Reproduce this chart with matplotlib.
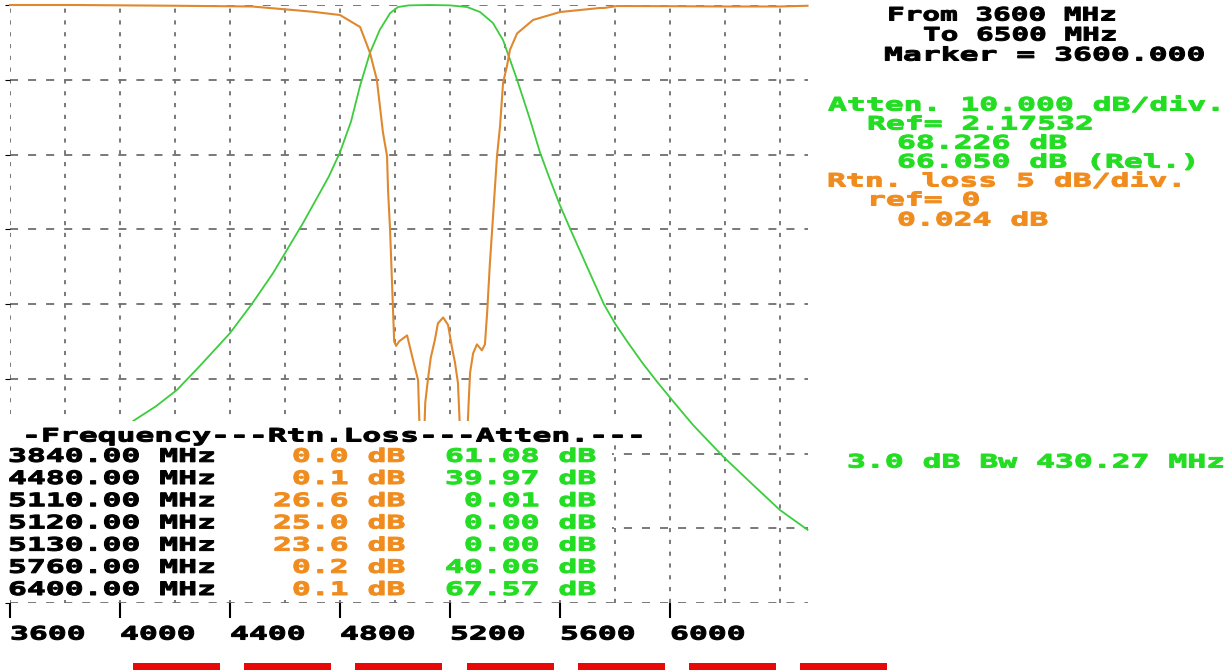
import numpy as np
import matplotlib
matplotlib.use("Agg")
import matplotlib.pyplot as plt
from matplotlib.patheffects import AbstractPathEffect
from matplotlib.transforms import Affine2D
from matplotlib.patches import Rectangle

plt.rcParams['lines.scale_dashes'] = False

# ---------------- data ----------------
f_start, f_stop = 3600, 6500

atten_freq = [3840, 4054, 4130, 4207, 4290, 4400, 4480, 4556, 4600, 4665, 4730, 4760,
              4800, 4840, 4873, 4909, 4945, 4982, 5011, 5050, 5110, 5120, 5130, 5200,
              5262, 5309, 5356, 5393, 5418, 5444, 5490, 5527, 5560, 5600, 5640, 5680,
              5720, 5760, 5800, 5844, 5900, 5953, 6011, 6084, 6193, 6302, 6400, 6500]
atten_db = [61.08, 55.5, 53.7, 51.5, 48.3, 43.9, 39.97, 35.9, 33.2, 29.2, 24.9, 22.9,
            19.7, 15.6, 10.8, 6.4, 3.3, 1.1, 0.27, 0.05, 0.01, 0.00, 0.00, 0.05,
            0.27, 0.93, 2.4, 4.7, 7.3, 10.0, 15.2, 19.7, 23.0, 26.8, 30.2, 33.5,
            36.8, 40.06, 42.6, 45.0, 47.9, 50.4, 53.0, 56.2, 60.4, 64.2, 67.57, 70.2]

rl_freq = [3600, 3840, 4200, 4480, 4607, 4700, 4800, 4873, 4909, 4934, 4956, 4971,
           4975, 4982, 4990, 4997, 5004, 5015, 5044, 5065, 5084, 5092, 5100, 5105,
           5110, 5120, 5130, 5145, 5156, 5175, 5193, 5207, 5218, 5229, 5240, 5250,
           5260, 5268, 5273, 5284, 5298, 5316, 5327, 5335, 5345, 5353, 5371, 5382,
           5393, 5407, 5418, 5444, 5502, 5600, 5745, 5760, 5807, 6000, 6200, 6400, 6500]
rl_db = [0.0, 0.0, 0.05, 0.1, 0.3, 0.45, 0.67, 1.47, 3.2, 5.0, 8.5, 10.1,
         12.5, 15.0, 19.0, 22.5, 22.8, 22.5, 22.1, 23.7, 25.1, 30.0, 33.0, 29.5,
         26.6, 25.0, 23.6, 22.4, 21.3, 20.9, 21.4, 22.9, 23.9, 25.3, 30.0, 34.0,
         30.0, 26.5, 24.6, 23.3, 22.7, 23.1, 22.7, 20.6, 17.3, 15.1, 10.1, 8.1,
         5.2, 4.1, 3.0, 1.9, 1.0, 0.47, 0.2, 0.2, 0.07, 0.08, 0.1, 0.1, 0.05]

table_freqs = [3840.00, 4480.00, 5110.00, 5120.00, 5130.00, 5760.00, 6400.00]
table_rl = [0.0, 0.1, 26.6, 25.0, 23.6, 0.2, 0.1]
table_att = [61.08, 39.97, 0.01, 0.00, 0.00, 40.06, 67.57]

tick_freqs = [3600, 4000, 4400, 4800, 5200, 5600, 6000]
tick_labels = ["3600", "4000", "4400", "4800", "5200", "5600", "6000"]

header_lines = ["From 3600 MHz", "To 6500 MHz", "Marker = 3600.000"]
atten_lines = ["Atten. 10.000 dB/div.", "Ref= 2.17532", "68.226 dB", "66.050 dB (Rel.)"]
rtn_lines = ["Rtn. loss 5 dB/div.", "ref= 0", "0.024 dB"]
bw_text = "3.0 dB Bw 430.27 MHz"
table_header = "-Frequency---Rtn.Loss---Atten.---"

# ---------------- styling ----------------
GREEN = '#22dd22'
GREEN_LINE = '#3ccc3c'
ORANGE = '#f08c1e'
ORANGE_LINE = '#e0882e'
GRID = '#6e6e6e'
RED = '#e80808'

W, H, DPI = 1227, 670, 100
FS = 13.3            # points -> ~18.5 px em
CAP = 13.5           # cap height in px
SX = 1.70            # horizontal stretch of the mono font
SX_NARROW = 1.59
STROKE = 0.75        # extra stroke (pt) to mimic the heavy bitmap font


class StretchX(AbstractPathEffect):
    """Stretch text glyphs horizontally about the text origin and embolden."""
    def __init__(self, sx, stroke=STROKE):
        super().__init__()
        self.sx = sx
        self.stroke = stroke

    def draw_path(self, renderer, gc, tpath, affine, rgbFace=None):
        tr = Affine2D().scale(self.sx, 1.0) + affine
        gc0 = renderer.new_gc()
        gc0.copy_properties(gc)
        gc0.set_linewidth(self.stroke)
        if rgbFace is not None:
            gc0.set_foreground(rgbFace)
        gc0.set_joinstyle('miter')
        renderer.draw_path(gc0, tpath, tr, rgbFace)
        gc0.restore()


FONT = dict(fontfamily='DejaVu Sans Mono', fontweight='bold', fontsize=FS)

fig = plt.figure(figsize=(W / DPI, H / DPI), dpi=DPI)
fig.patch.set_facecolor('white')

L, R, T, B = 10, 807.5, 5, 603
ax = fig.add_axes([L / W, 1 - B / H, (R - L) / W, (B - T) / H])
ax.set_xlim(f_start, f_stop)
ax.set_ylim(80, 0)
for s in ax.spines.values():
    s.set_visible(False)
ax.patch.set_alpha(0)

ax.xaxis.remove_overlapping_locs = False
ax.set_xticks(np.arange(3600, 6500, 200), minor=True)
ax.set_xticks(tick_freqs, labels=tick_labels)
ax.set_yticks(np.arange(0, 81, 10))
ax.tick_params(axis='y', left=False, labelleft=False)
ax.tick_params(axis='x', which='minor', length=0)
ax.tick_params(axis='x', which='major', direction='out', length=10.8, width=1.5,
               color='black', pad=15.5)
for lbl in ax.get_xticklabels():
    lbl.set_fontfamily('DejaVu Sans Mono')
    lbl.set_fontweight('bold')
    lbl.set_fontsize(FS)
    lbl.set_ha('left')
    lbl.set_va('baseline')
    lbl.set_path_effects([StretchX(SX)])

ax.grid(which='minor', axis='x', color=GRID, lw=1.3, linestyle=(0, (3.0, 5.5)))
ax.grid(which='major', axis='y', color=GRID, lw=1.3, linestyle=(0, (5.8, 7.2)))

ax.plot(atten_freq, atten_db, color=GREEN_LINE, lw=1.3, clip_on=False, zorder=3)

ax2 = ax.twinx()
ax2.set_ylim(40, 0)
ax2.axis('off')
ax2.plot(rl_freq, rl_db, color=ORANGE_LINE, lw=1.5, clip_on=False, zorder=3)

# ---------------- overlay for texts / boxes ----------------
ov = fig.add_axes([0, 0, 1, 1], zorder=10)
ov.set_xlim(0, W)
ov.set_ylim(H, 0)
ov.axis('off')


def put(x, top, s, color, sx=SX):
    ov.text(x, top + CAP, s, color=color, ha='left', va='baseline',
            path_effects=[StretchX(sx)], **FONT)


# table background
ov.add_patch(Rectangle((0, 421), 612, 179, facecolor='white', edgecolor='none', zorder=1))
ov.add_patch(Rectangle((0, 421), 646, 24, facecolor='white', edgecolor='none', zorder=1))

put(22, 428, table_header, 'black')
row_top0, row_dy = 448.3, 22.2
for i in range(len(table_freqs)):
    top = row_top0 + i * row_dy
    put(8, top, f"{table_freqs[i]:.2f} MHz", 'black')
    put(273, top, f"{table_rl[i]:4.1f} dB", ORANGE)
    put(445, top, f"{table_att[i]:5.2f} dB", GREEN)

# right-hand panel
put(887, 7, header_lines[0], 'black', SX_NARROW)
put(923, 27, header_lines[1], 'black', SX_NARROW)
put(884, 47, header_lines[2], 'black')

put(828, 97, atten_lines[0], GREEN)
put(867, 116, atten_lines[1], GREEN)
put(897, 135, atten_lines[2], GREEN)
put(897, 154, atten_lines[3], GREEN)

put(827, 173, rtn_lines[0], ORANGE)
put(867, 192, rtn_lines[1], ORANGE)
put(897, 212, rtn_lines[2], ORANGE)

put(847, 454, bw_text, GREEN)

# red soft-key buttons
for i in range(7):
    ov.add_patch(Rectangle((133 + i * 111.2, 663), 87, 10, facecolor=RED,
                           edgecolor='none', zorder=1, clip_on=False))

fig.savefig('out.png', dpi=DPI, facecolor='white')
